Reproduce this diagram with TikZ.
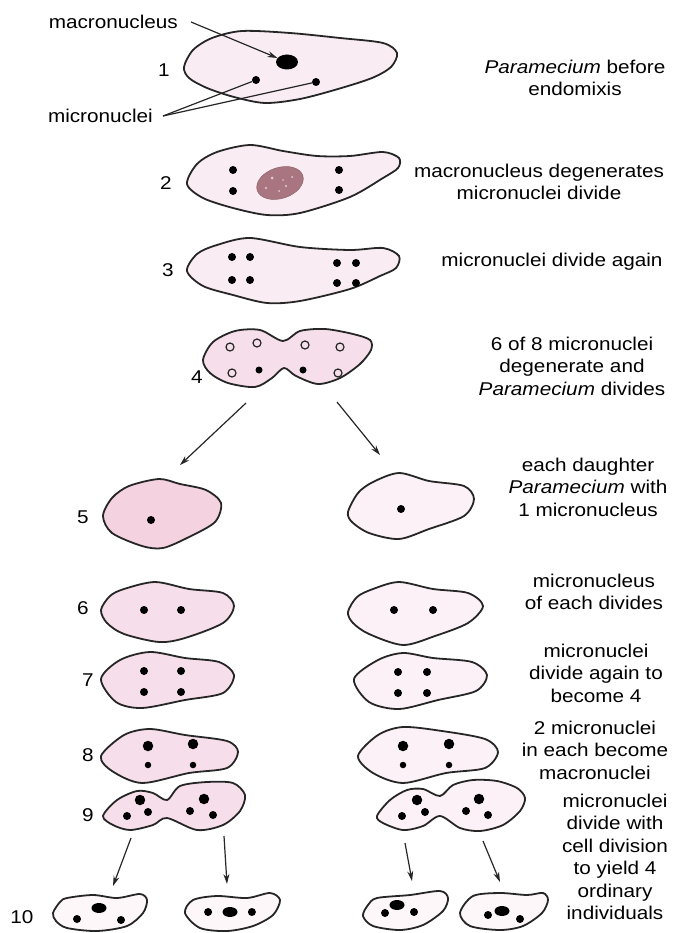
\documentclass[tikz,border=0pt]{standalone}
\usepackage{fontspec}
\setmainfont[FakeStretch=1.12]{Liberation Sans}
\usetikzlibrary{positioning,arrows.meta,shapes.geometric}

\definecolor{rim}{HTML}{262626}
\definecolor{pale}{HTML}{F9EDF3}
\definecolor{rose}{HTML}{F6DFEA}
\definecolor{deep}{HTML}{F4D2DF}
\definecolor{faint}{HTML}{FBF1F6}
\definecolor{ghost}{HTML}{FDF7FA}
\definecolor{decay}{HTML}{A97580}

\newcommand{\lbl}{\fontsize{18.5}{22.5}\selectfont}

\tikzset{
	cell/.style={draw=rim, line width=1.8pt, fill=#1},
	cell/.default=pale,
	mic/.style={circle, fill=black, inner sep=0pt, minimum size=8pt},
	big/.style={circle, fill=black, inner sep=0pt, minimum size=10.5pt},
	mac/.style={ellipse, fill=black, inner sep=0pt, minimum width=15pt, minimum height=10pt},
	ring/.style={circle, draw=rim, line width=1.2pt, fill=rose, inner sep=0pt, minimum size=8pt},
	arr/.style={-{Stealth[length=10pt,width=6pt]}, draw=rim, line width=1.2pt},
	note/.style={align=center, font=\lbl, inner sep=0pt},
	num/.style={font=\lbl, inner sep=0pt}
}

\begin{document}
\begin{tikzpicture}[x=1pt,y=-1pt]
	\useasboundingbox (0,0) rectangle (674,933);

	% stage 1
	\draw[cell] plot[smooth cycle] coordinates {(184,67) (193,50) (212,38) (242,31) (290,33) (340,38) (383,43) (397,53) (391,67) (372,78) (338,89) (300,99) (265,103) (234,97) (207,88) (189,78)};
	\node[mac, minimum width=22pt, minimum height=15pt] (mac1) at (287,62) {};
	\node[mic] (m1a) at (256,80) {};
	\node[mic] (m1b) at (316,82) {};
	\node[num] (n1) at (164,70) {1};
	\node[note, anchor=east] (lmac) at (178,22) {macronucleus};
	\node[note, anchor=east] (lmic) at (153,116) {micronuclei};
	\draw[arr] ([xshift=13pt]lmac.east) -- (mac1);
	\draw[rim, line width=1.2pt] ([xshift=10pt]lmic.east) -- (m1a);
	\draw[rim, line width=1.2pt] ([xshift=10pt]lmic.east) -- (m1b);

	% stage 2
	\draw[cell] plot[smooth cycle] coordinates {(187,184) (197,164) (217,152) (250,145) (283,151) (317,156) (350,156) (383,152) (399,158) (398,168) (383,178) (350,197) (300,213) (267,215) (233,208) (203,198)};
	\node[ellipse, fill=decay, draw=decay!80!black, minimum width=48pt, minimum height=31pt, rotate=18, inner sep=0pt] (deg) at (280,183) {};
	\fill[white!65!decay] (272,178) circle (1.5pt) (286,186) circle (1.2pt) (279,191) circle (1pt) (292,177) circle (1pt) (266,188) circle (1.2pt) (283,180) circle (0.8pt);
	\node[mic] (m2a) at (233,170) {};
	\node[mic] (m2b) at (233,191) {};
	\node[mic] (m2c) at (339,170) {};
	\node[mic] (m2d) at (339,190) {};
	\node[num] (n2) at (166,183) {2};

	% stage 3
	\draw[cell] plot[smooth cycle] coordinates {(187,271) (197,254) (217,245) (250,238) (300,247) (350,250) (383,248) (399,256) (396,268) (380,276) (350,289) (300,301) (267,303) (233,295) (203,286)};
	\node[mic] (m3a) at (232,257) {};
	\node[mic] (m3b) at (250,257) {};
	\node[mic] (m3c) at (232,280) {};
	\node[mic] (m3d) at (250,280) {};
	\node[mic] (m3e) at (337,263) {};
	\node[mic] (m3f) at (356,263) {};
	\node[mic] (m3g) at (337,283) {};
	\node[mic] (m3h) at (356,283) {};
	\node[num] (n3) at (168,270) {3};

	% stage 4
	\draw[cell=rose] plot[smooth cycle, tension=0.5] coordinates {(203,360) (213,342) (235,331) (260,330) (283,341) (300,331) (325,329) (353,334) (370,340) (371,350) (360,364) (340,378) (318,384) (296,376) (284,368) (272,378) (255,387) (228,383) (210,373)};
	\node[ring] (r4a) at (230,347) {};
	\node[ring] (r4b) at (257,343) {};
	\node[ring] (r4c) at (305,345) {};
	\node[ring] (r4d) at (340,347) {};
	\node[ring] (r4e) at (232,373) {};
	\node[ring] (r4f) at (338,373) {};
	\node[mic, minimum size=7pt] (m4a) at (259,370) {};
	\node[mic, minimum size=7pt] (m4b) at (303,370) {};
	\node[num] (n4) at (197,377) {4};

	\coordinate (s4l) at (246,403);
	\coordinate (e5l) at (180,465);
	\coordinate (s4r) at (337,402);
	\coordinate (e5r) at (380,455);
	\draw[arr] (s4l) -- (e5l);
	\draw[arr] (s4r) -- (e5r);

	% stage 5
	\draw[cell=deep] plot[smooth cycle] coordinates {(103,516) (112,498) (129,486) (159,479) (180,484) (206,490) (221,503) (215,522) (189,537) (163,548) (142,546) (112,533)};
	\draw[cell=faint] plot[smooth cycle] coordinates {(348,512) (358,493) (373,482) (399,473) (429,481) (464,486) (474,499) (464,516) (429,529) (399,539) (369,533) (352,522)};
	\node[mic] (m5a) at (151,520) {};
	\node[mic] (m5b) at (401,509) {};
	\node[num] (n5) at (83,517) {5};

	% stage 6
	\draw[cell=rose] plot[smooth cycle] coordinates {(101,610) (110,596) (124,589) (155,582) (189,589) (223,593) (234,606) (223,623) (185,638) (159,642) (124,634) (107,623)};
	\draw[cell=faint] plot[smooth cycle] coordinates {(348,612) (357,597) (373,589) (399,582) (433,589) (468,593) (483,606) (468,623) (435,636) (403,645) (369,634) (353,623)};
	\node[mic] (m6a) at (144,610) {};
	\node[mic] (m6b) at (181,610) {};
	\node[mic] (m6c) at (394,610) {};
	\node[mic] (m6d) at (433,610) {};
	\node[num] (n6) at (83,608) {6};

	% stage 7
	\draw[cell=rose] plot[smooth cycle] coordinates {(101,679) (120,660) (150,652) (185,658) (219,662) (234,675) (223,693) (185,700) (142,708) (116,702)};
	\draw[cell=faint] plot[smooth cycle] coordinates {(354,679) (378,660) (403,653) (433,658) (472,662) (487,675) (476,691) (438,700) (399,709) (369,702)};
	\node[mic] (m7a) at (144,671) {};
	\node[mic] (m7b) at (181,671) {};
	\node[mic] (m7c) at (144,692) {};
	\node[mic] (m7d) at (181,692) {};
	\node[mic] (m7e) at (398,672) {};
	\node[mic] (m7f) at (427,672) {};
	\node[mic] (m7g) at (398,693) {};
	\node[mic] (m7h) at (427,693) {};
	\node[num] (n7) at (88,680) {7};

	% stage 8
	\draw[cell=rose] plot[smooth cycle] coordinates {(101,756) (124,735) (150,729) (185,735) (227,741) (238,752) (227,768) (189,773) (142,783) (112,771)};
	\draw[cell=faint] plot[smooth cycle] coordinates {(358,756) (378,735) (403,727) (442,731) (485,739) (498,752) (485,768) (446,773) (403,783) (373,773)};
	\node[big] (b8a) at (148,746) {};
	\node[mic, minimum size=6.5pt] (m8a) at (148,765) {};
	\node[big] (b8b) at (193,744) {};
	\node[mic, minimum size=6.5pt] (m8b) at (193,765) {};
	\node[big] (b8c) at (403,746) {};
	\node[mic, minimum size=6.5pt] (m8c) at (403,765) {};
	\node[big] (b8d) at (449,744) {};
	\node[mic, minimum size=6.5pt] (m8d) at (449,765) {};
	\node[num] (n8) at (88,755) {8};

	% stage 9
	\draw[cell=rose] plot[smooth cycle, tension=0.5] coordinates {(103,816) (117,800) (137,791) (153,793) (167,800) (180,786) (207,782) (233,783) (245,795) (240,811) (223,825) (197,830) (167,818) (153,825) (130,830) (113,825)};
	\draw[cell=faint] plot[smooth cycle, tension=0.5] coordinates {(377,816) (390,800) (407,790) (423,789) (440,796) (453,785) (473,780) (497,781) (517,788) (525,798) (520,811) (503,825) (480,831) (460,828) (440,816) (423,826) (403,830) (383,823)};
	\node[big] (b9a) at (140,800) {};
	\node[mic] (m9a) at (127,816) {};
	\node[mic] (m9b) at (148,812) {};
	\node[big] (b9b) at (204,799) {};
	\node[mic] (m9c) at (190,811) {};
	\node[mic] (m9d) at (213,815) {};
	\node[big] (b9c) at (417,800) {};
	\node[mic] (m9e) at (402,816) {};
	\node[mic] (m9f) at (425,812) {};
	\node[big] (b9d) at (479,799) {};
	\node[mic] (m9g) at (466,811) {};
	\node[mic] (m9h) at (488,815) {};
	\node[num] (n9) at (88,815) {9};

	\coordinate (s9a) at (131,838);
	\coordinate (e10a) at (113,886);
	\coordinate (s9b) at (224,836);
	\coordinate (e10b) at (227,884);
	\coordinate (s9c) at (405,843);
	\coordinate (e10c) at (412,881);
	\coordinate (s9d) at (483,841);
	\coordinate (e10d) at (500,882);
	\draw[arr] (s9a) -- (e10a);
	\draw[arr] (s9b) -- (e10b);
	\draw[arr] (s9c) -- (e10c);
	\draw[arr] (s9d) -- (e10d);

	% stage 10
	\draw[cell=ghost] plot[smooth cycle] coordinates {(53,913) (60,902) (67,898) (93,895) (117,898) (140,894) (147,900) (143,913) (127,926) (97,931) (67,928) (56,921)};
	\draw[cell=ghost] plot[smooth cycle] coordinates {(185,913) (193,900) (217,896) (247,898) (270,893) (280,900) (273,915) (253,926) (227,931) (200,928)};
	\draw[cell=ghost] plot[smooth cycle] coordinates {(363,916) (368,905) (377,898) (410,895) (440,891) (448,898) (443,911) (423,925) (400,930) (373,926)};
	\draw[cell=ghost] plot[smooth cycle] coordinates {(460,913) (473,896) (500,893) (527,895) (543,893) (548,900) (542,913) (523,926) (500,930) (470,926)};
	\node[mac] (b10a) at (99,908) {};
	\node[mic] (m10a) at (77,919) {};
	\node[mic] (m10b) at (121,920) {};
	\node[mac] (b10b) at (230,912) {};
	\node[mic, left=10pt of b10b] (m10c) {};
	\node[mic, right=10pt of b10b] (m10d) {};
	\node[mac] (b10c) at (397,905) {};
	\node[mic] (m10e) at (385,913) {};
	\node[mic] (m10f) at (414,912) {};
	\node[mac] (b10d) at (502,911) {};
	\node[mic] (m10g) at (488,915) {};
	\node[mic] (m10h) at (520,919) {};
	\node[num] (n10) at (22,917) {10};

	% right-hand notes
	\node[note] (t1) at (575,78) {\textit{Paramecium} before\\endomixis};
	\node[note] (t2) at (539,182) {macronucleus degenerates\\micronuclei divide};
	\node[note] (t3) at (552,262) {micronuclei divide again};
	\node[note] (t4) at (572,366) {6 of 8 micronuclei\\degenerate and\\\textit{Paramecium} divides};
	\node[note] (t5) at (588,487) {each daughter\\\textit{Paramecium} with\\1 micronucleus};
	\node[note] (t6) at (594,592) {micronucleus\\of each divides};
	\node[note] (t7) at (596,673) {micronuclei\\divide again to\\become 4};
	\node[note] (t8) at (595,750) {2 micronuclei\\in each become\\macronuclei};
	\node[note] (t9) at (615,857) {micronuclei\\divide with\\cell division\\to yield 4\\ordinary\\individuals};
\end{tikzpicture}
\end{document}
